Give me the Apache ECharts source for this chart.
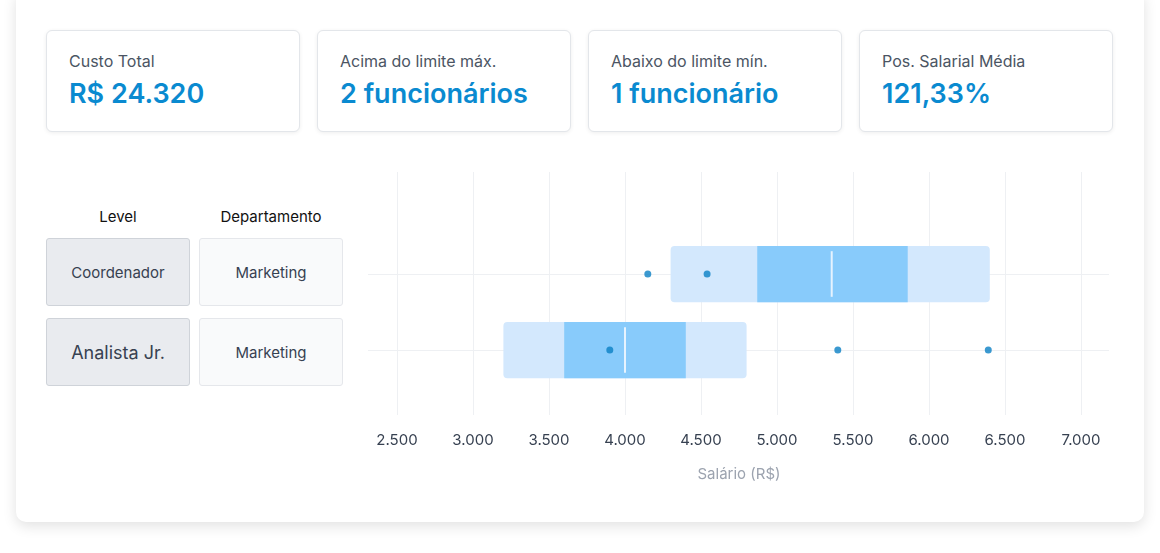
<!DOCTYPE html>
<html>
<head>
<meta charset="utf-8">
<script src="https://cdn.jsdelivr.net/npm/echarts@6/dist/echarts.min.js"></script>
<style>
body { margin: 0; width: 1160px; height: 553px; background: #fff; font-family: Inter, "Noto Sans", sans-serif; position: relative; overflow: hidden; }
.panel { position: absolute; left: 16px; top: -10px; width: 1128px; height: 532px; background: #fff; border-radius: 10px; box-shadow: 0 4px 14px rgba(0,0,0,0.12); }
.card { position: absolute; top: 30px; width: 254px; height: 102px; border: 1px solid #e3e6ea; border-radius: 6px; box-shadow: 0 1px 4px rgba(0,0,0,0.07); box-sizing: border-box; padding: 20px 22px; background: #fff; }
.card .t { font-size: 16px; color: #4b5563; }
.card .v { font-size: 27px; font-weight: 600; color: #0a8ad0; margin-top: 6px; }
.hd { position: absolute; top: 207px; font-size: 15px; color: #111; text-align: center; }
.cell { position: absolute; width: 144px; height: 68px; border-radius: 3px; box-sizing: border-box; display: flex; align-items: center; justify-content: center; color: #374151; }
.lv { left: 46px; background: #e9ebef; border: 1px solid #cfd3d9; }
.dp { left: 199px; background: #f9fafb; border: 1px solid #e5e7eb; font-size: 15px; }
#chart { position: absolute; left: 0; top: 0; width: 1160px; height: 553px; }
</style>
</head>
<body>
<div class="panel"></div>
<div class="card" style="left:46px"><div class="t">Custo Total</div><div class="v">R$ 24.320</div></div>
<div class="card" style="left:317px"><div class="t">Acima do limite máx.</div><div class="v">2 funcionários</div></div>
<div class="card" style="left:588px"><div class="t">Abaixo do limite mín.</div><div class="v">1 funcionário</div></div>
<div class="card" style="left:859px"><div class="t">Pos. Salarial Média</div><div class="v">121,33%</div></div>
<div class="hd" style="left:46px;width:144px">Level</div>
<div class="hd" style="left:199px;width:144px">Departamento</div>
<div class="cell lv" style="top:238px;font-size:15px">Coordenador</div>
<div class="cell dp" style="top:238px">Marketing</div>
<div class="cell lv" style="top:318px;font-size:18px">Analista Jr.</div>
<div class="cell dp" style="top:318px">Marketing</div>
<div id="chart"></div>
<script>
// dados
const levels = ['Analista Jr.', 'Coordenador'];
const rangeMin = [3200, 4300];
const rangeMax = [4800, 6400];
const q1 = [3600, 4870];
const q3 = [4400, 5860];
const medians = [4000, 5360];
const employees = [[3900, 0], [5400, 0], [6390, 0], [4150, 1], [4540, 1]];

function boxItem(fill, lo, hi, radius) {
    return function (params, api) {
        const i = params.dataIndex;
        const a = api.coord([lo[i], i]);
        const b = api.coord([hi[i], i]);
        const h = api.size([0, 0.74])[1];
        return {
            type: 'rect',
            shape: { x: a[0], y: a[1] - h / 2, width: b[0] - a[0], height: h, r: radius },
            style: { fill: fill }
        };
    };
}

const chart = echarts.init(document.getElementById('chart'));
chart.setOption({
    animation: false,
    grid: [
        { left: 397, right: 79, top: 172, bottom: 138 },
        { left: 368, right: 51, top: 274, bottom: 203 }
    ],
    xAxis: [{
        gridIndex: 0, type: 'value', min: 2500, max: 7000, interval: 500,
        axisLine: { show: false }, axisTick: { show: false },
        axisLabel: { color: '#374151', fontSize: 15, margin: 18, fontFamily: 'Inter',
            formatter: v => v.toLocaleString('de-DE') },
        splitLine: { lineStyle: { color: '#eef0f3' } },
        name: 'Salário (R$)', nameLocation: 'middle', nameGap: 52,
        nameTextStyle: { color: '#9ca3af', fontSize: 15, fontFamily: 'Inter' }
    }, {
        gridIndex: 1, type: 'value', show: false
    }],
    yAxis: [{
        gridIndex: 0, type: 'value', min: -0.855, max: 2.342, show: false
    }, {
        gridIndex: 1, type: 'value', min: 0, max: 1, interval: 1,
        axisLine: { show: false }, axisTick: { show: false }, axisLabel: { show: false },
        splitLine: { lineStyle: { color: '#eef0f3' } }
    }],
    series: [{
        type: 'custom', renderItem: boxItem('#d3e8fd', rangeMin, rangeMax, 4),
        data: levels.map((l, i) => [rangeMin[i], i]), z: 2
    }, {
        type: 'custom', renderItem: boxItem('#88cbfb', q1, q3, 0),
        data: levels.map((l, i) => [q1[i], i]), z: 3
    }, {
        type: 'custom',
        renderItem: function (params, api) {
            const i = params.dataIndex;
            const p = api.coord([medians[i], i]);
            const h = api.size([0, 0.6])[1];
            return { type: 'line', shape: { x1: p[0], y1: p[1] - h / 2, x2: p[0], y2: p[1] + h / 2 },
                style: { stroke: '#e6f3fe', lineWidth: 2 } };
        },
        data: levels.map((l, i) => [medians[i], i]), z: 4
    }, {
        type: 'scatter', data: employees, symbolSize: 7,
        itemStyle: { color: '#0a7fc4' }, z: 5
    }]
});
</script>
</body>
</html>
